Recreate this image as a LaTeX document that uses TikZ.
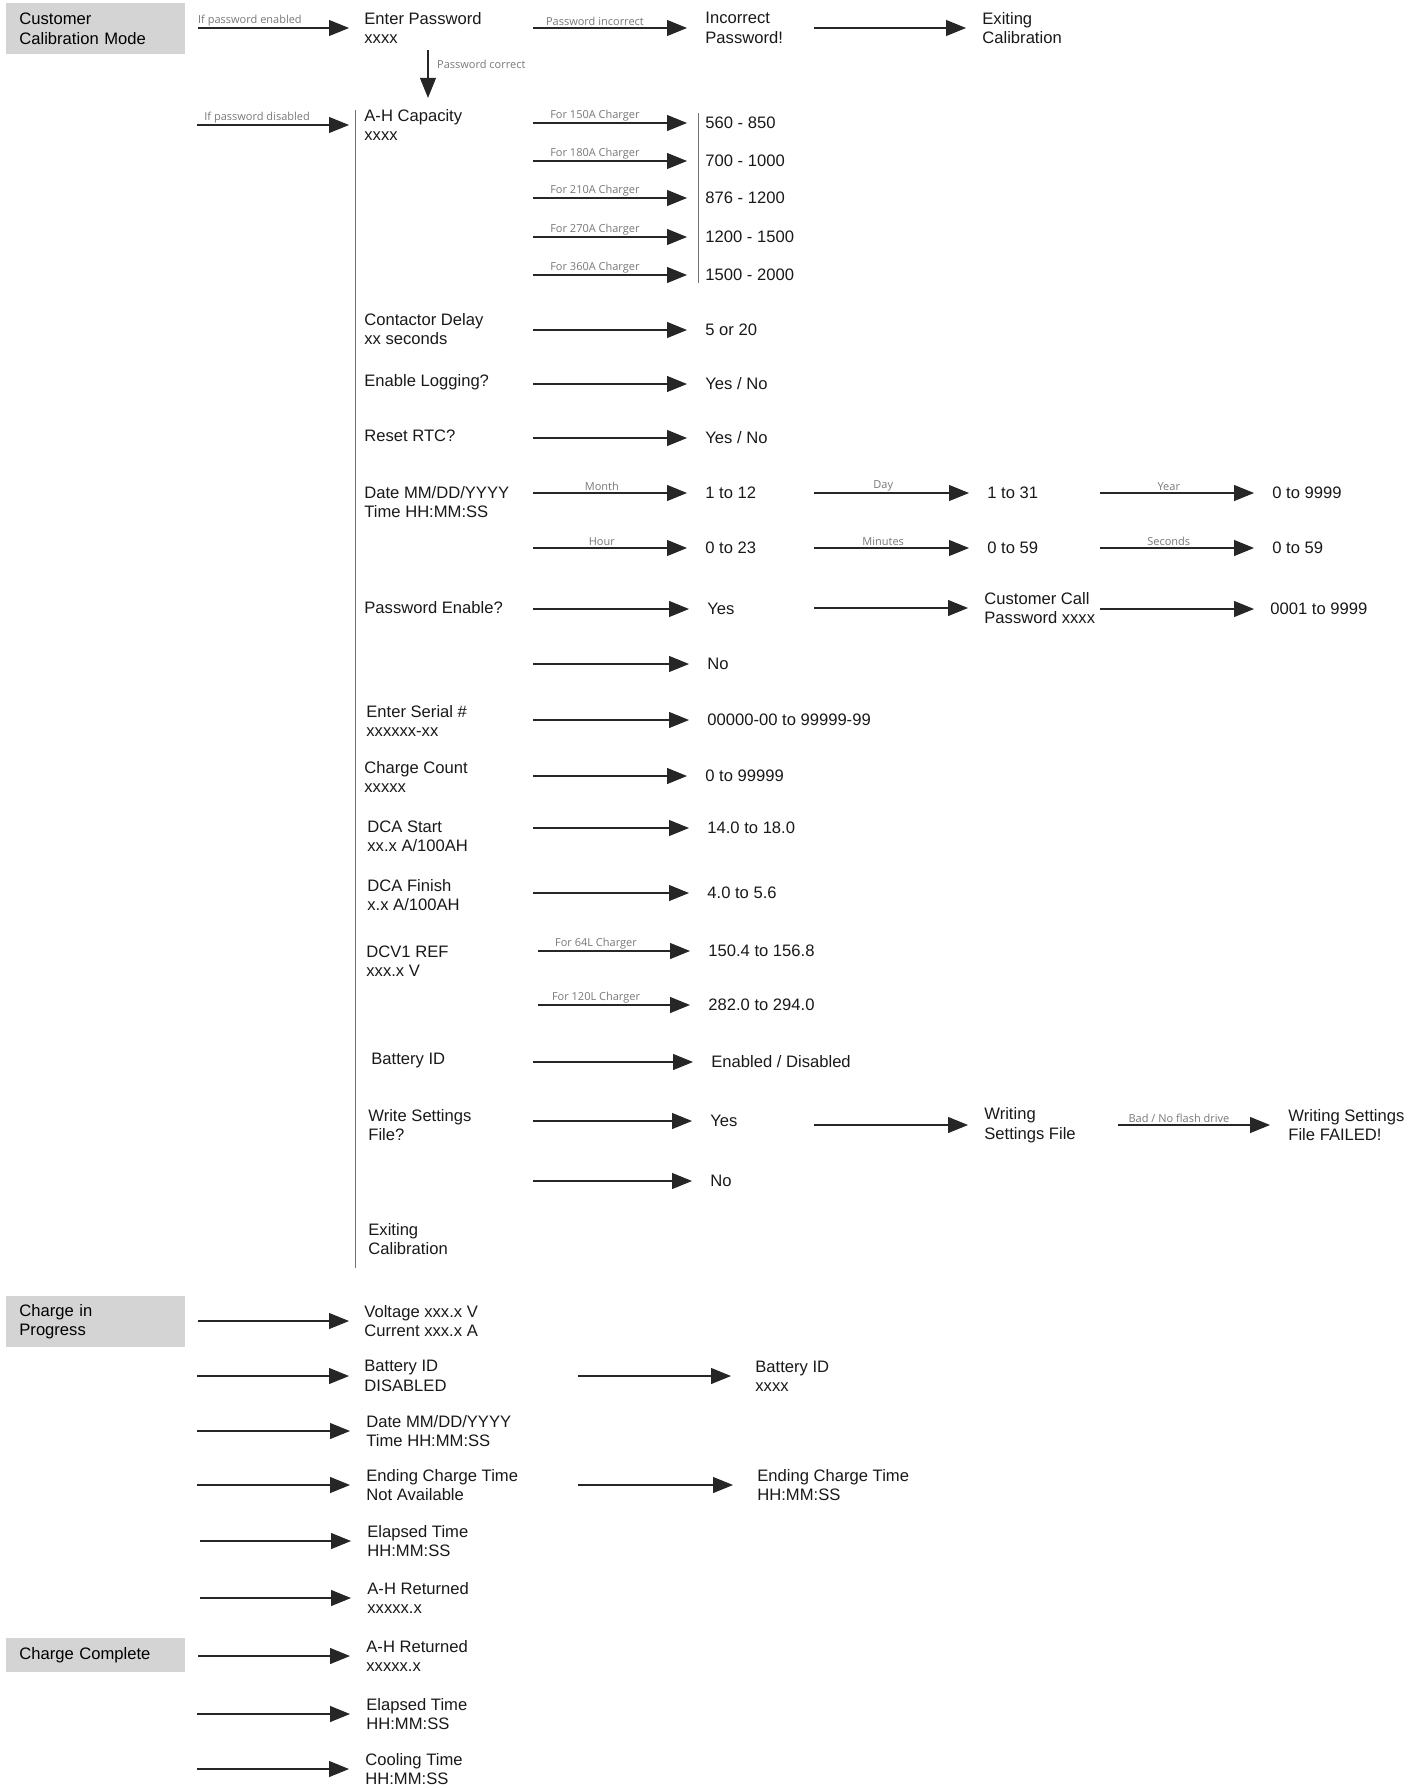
\documentclass[tikz,border=0pt]{standalone}
\usepackage{fontspec}
\setmainfont{Liberation Sans}
\newfontfamily\lblfont{Open Sans}
\usetikzlibrary{arrows.meta}
\definecolor{boxgray}{RGB}{212,212,212}
\definecolor{lblgray}{RGB}{120,120,120}
\tikzset{
  txt/.style={anchor=west,inner sep=0pt,align=left,text=black!90,font=\fontsize{8.3}{9.7}\selectfont},
  gbox/.style={anchor=north west,fill=boxgray,minimum width=89.5pt,text width=76.5pt,inner xsep=6.5pt,align=left,font=\fontsize{8.3}{9.7}\selectfont},
  ar/.style={-{Triangle[length=10pt,width=8pt]},line width=0.55pt,black!85,shorten >=9pt},
  ln/.style={line width=0.5pt,black!55},
  lb/.style={pos=0.36,above,inner sep=0.8pt,text=lblgray,font=\lblfont\fontsize{5.5}{6}\selectfont}
}
\begin{document}
\begin{tikzpicture}[x=0.5pt,y=-0.5pt]
\useasboundingbox (0,0) rectangle (1419,1788);
\coordinate (lc) at (197,0);
\coordinate (ca) at (533,0);
\coordinate (cm) at (578,0);
\coordinate (cb) at (814,0);
\coordinate (cc) at (1100,0);
\coordinate (pc) at (428,0);
\coordinate (vt) at (355,110);
\coordinate (vb) at (355,1268);
\coordinate (bt) at (698,113);
\coordinate (bb) at (698,283);

\node[gbox,minimum height=25.5pt] (ccm) at (6,3) {Customer\\Calibration Mode};
\node[txt] (pw) at (364,28) {Enter Password\\xxxx};
\node[txt] (inc) at (705,28) {Incorrect\\Password!};
\node[txt] (exc) at (982,28) {Exiting\\Calibration};
\draw[ar,shorten <=6pt,shorten >=7.5pt] (pw.west -| ccm.east) -- node[lb]{If password enabled} (pw.west);
\draw[ar] (inc.west -| ca) -- node[lb]{Password incorrect} (inc.west);
\draw[ar,shorten >=8pt] (exc.west -| cb) -- (exc.west);

\node[txt] (ah) at (364,125) {A-H Capacity\\xxxx};
\draw[ar,shorten <=3pt,shorten >=5.5pt] (pw.south -| pc) -- node[lb,pos=0.32,right=3.5pt]{Password correct} (ah.north -| pc);
\draw[ar,shorten >=7.5pt] (ah.west -| lc) -- node[lb]{If password disabled} (ah.west);
\draw[ln] (vt) -- (vb);

\foreach \y/\ch/\rng [count=\i] in {123/150A/560 - 850,161/180A/700 - 1000,198/210A/876 - 1200,237/270A/1200 - 1500,275/360A/1500 - 2000}{
  \node[txt] (cap\i) at (705,\y) {\rng};
  \draw[ar] (cap\i.west -| ca) -- node[lb]{For \ch\ Charger} (cap\i.west);
}
\draw[ln] (bt) -- (bb);

\node[txt] (cd) at (364,329) {Contactor Delay\\xx seconds};
\node[txt] (cdv) at (705,330) {5 or 20};
\draw[ar] (cdv.west -| ca) -- (cdv.west);

\node[txt] (el) at (364,382) {Enable Logging?};
\node[txt] (elv) at (705,384) {Yes / No};
\draw[ar] (elv.west -| ca) -- (elv.west);

\node[txt] (rtc) at (364,436) {Reset RTC?};
\node[txt] (rtcv) at (705,438) {Yes / No};
\draw[ar] (rtcv.west -| ca) -- (rtcv.west);

\node[txt] (dt) at (364,502) {Date MM/DD/YYYY\\Time HH:MM:SS};
\node[txt] (mo) at (705,493) {1 to 12};
\node[txt] (dy) at (987,493) {1 to 31};
\node[txt] (yr) at (1272,493) {0 to 9999};
\node[txt] (hr) at (705,548) {0 to 23};
\node[txt] (mi) at (987,548) {0 to 59};
\node[txt] (se) at (1272,548) {0 to 59};
\draw[ar] (mo.west -| ca) -- node[lb,pos=0.4]{Month} (mo.west);
\draw[ar] (dy.west -| cb) -- node[lb,pos=0.4]{Day} (dy.west);
\draw[ar] (yr.west -| cc) -- node[lb,pos=0.4]{Year} (yr.west);
\draw[ar] (hr.west -| ca) -- node[lb,pos=0.4]{Hour} (hr.west);
\draw[ar] (mi.west -| cb) -- node[lb,pos=0.4]{Minutes} (mi.west);
\draw[ar] (se.west -| cc) -- node[lb,pos=0.4]{Seconds} (se.west);

\node[txt] (pe) at (364,608) {Password Enable?};
\node[txt] (pey) at (707,609) {Yes};
\node[txt] (ccp) at (984,608) {Customer Call\\Password xxxx};
\node[txt] (ccr) at (1270,609) {0001 to 9999};
\node[txt] (pen) at (707,664) {No};
\draw[ar] (pey.west -| ca) -- (pey.west);
\draw[ar,shorten >=8pt] (ccp.west -| cb) -- (ccp.west);
\draw[ar,shorten >=8pt] (ccr.west -| cc) -- (ccr.west);
\draw[ar] (pen.west -| ca) -- (pen.west);

\node[txt] (sn) at (366,721) {Enter Serial \#\\xxxxxx-xx};
\node[txt] (snv) at (707,720) {00000-00 to 99999-99};
\draw[ar] (snv.west -| ca) -- (snv.west);

\node[txt] (cnt) at (364,777) {Charge Count\\xxxxx};
\node[txt] (cntv) at (705,776) {0 to 99999};
\draw[ar] (cntv.west -| ca) -- (cntv.west);

\node[txt] (ds) at (367,836) {DCA Start\\xx.x A/100AH};
\node[txt] (dsv) at (707,828) {14.0 to 18.0};
\draw[ar] (dsv.west -| ca) -- (dsv.west);

\node[txt] (df) at (367,895) {DCA Finish\\x.x A/100AH};
\node[txt] (dfv) at (707,893) {4.0 to 5.6};
\draw[ar] (dfv.west -| ca) -- (dfv.west);

\node[txt] (dcv) at (366,961) {DCV1 REF\\xxx.x V};
\node[txt] (dcv1) at (708,951) {150.4 to 156.8};
\node[txt] (dcv2) at (708,1005) {282.0 to 294.0};
\draw[ar,shorten <=2.5pt] (dcv1.west -| ca) -- node[lb]{For 64L Charger} (dcv1.west);
\draw[ar,shorten <=2.5pt] (dcv2.west -| ca) -- node[lb]{For 120L Charger} (dcv2.west);

\node[txt] (bid) at (371,1060) {Battery ID};
\node[txt] (bidv) at (711,1062) {Enabled / Disabled};
\draw[ar] (bidv.west -| ca) -- (bidv.west);

\node[txt] (ws) at (368,1125) {Write Settings\\File?};
\node[txt] (wsy) at (710,1121) {Yes};
\node[txt] (wsf) at (984,1125) {Writing\\Settings File};
\node[txt] (wsx) at (1288,1125) {Writing Settings\\File FAILED!};
\node[txt] (wsn) at (710,1181) {No};
\draw[ar] (wsy.west -| ca) -- (wsy.west);
\draw[ar,shorten >=8pt] (wsf.west -| cb) -- (wsf.west);
\draw[ar,shorten <=9pt] (wsx.west -| cc) -- node[lb,pos=0.42]{Bad / No flash drive} (wsx.west);
\draw[ar] (wsn.west -| ca) -- (wsn.west);

\node[txt] (ex) at (368,1239) {Exiting\\Calibration};

\node[gbox,minimum height=25.5pt] (cip) at (6,1296) {Charge in\\Progress};
\node[txt] (vi) at (364,1321) {Voltage xxx.x V\\Current xxx.x A};
\node[txt] (bd) at (364,1376) {Battery ID\\DISABLED};
\node[txt] (bx) at (755,1376) {Battery ID\\xxxx};
\node[txt] (dt2) at (366,1431) {Date MM/DD/YYYY\\Time HH:MM:SS};
\node[txt] (ec) at (366,1485) {Ending Charge Time\\Not Available};
\node[txt] (ecx) at (757,1485) {Ending Charge Time\\HH:MM:SS};
\node[txt] (et) at (367,1541) {Elapsed Time\\HH:MM:SS};
\node[txt] (ahr) at (367,1598) {A-H Returned\\xxxxx.x};
\draw[ar,shorten <=6pt,shorten >=7.5pt] (vi.west -| cip.east) -- (vi.west);
\draw[ar,shorten >=7.5pt] (bd.west -| lc) -- (bd.west);
\draw[ar,shorten >=12pt] (bx.west -| cm) -- (bx.west);
\draw[ar,shorten >=8pt] (dt2.west -| lc) -- (dt2.west);
\draw[ar,shorten >=8pt] (ec.west -| lc) -- (ec.west);
\draw[ar,shorten >=12pt] (ecx.west -| cm) -- (ecx.west);
\draw[ar,shorten <=1.5pt,shorten >=8pt] (et.west -| lc) -- (et.west);
\draw[ar,shorten <=1.5pt,shorten >=8pt] (ahr.west -| lc) -- (ahr.west);

\node[gbox,minimum height=17pt] (chc) at (6,1638) {Charge Complete};
\node[txt] (ahr2) at (366,1656) {A-H Returned\\xxxxx.x};
\node[txt] (et2) at (366,1714) {Elapsed Time\\HH:MM:SS};
\node[txt] (cl) at (365,1769) {Cooling Time\\HH:MM:SS};
\draw[ar,shorten <=6pt,shorten >=8pt] (ahr2.west -| chc.east) -- (ahr2.west);
\draw[ar,shorten >=8pt] (et2.west -| lc) -- (et2.west);
\draw[ar,shorten >=8pt] (cl.west -| lc) -- (cl.west);
\end{tikzpicture}
\end{document}
